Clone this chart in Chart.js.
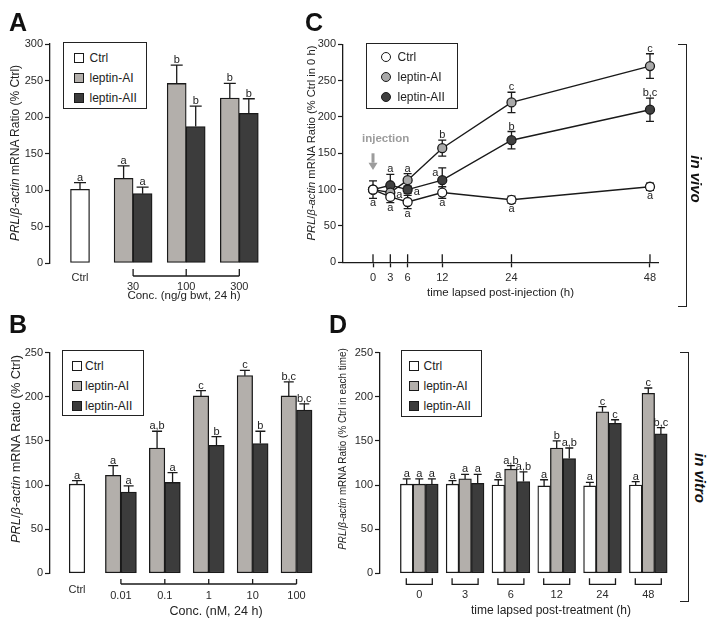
<!DOCTYPE html>
<html>
<head>
<meta charset="utf-8">
<script src="https://cdn.jsdelivr.net/npm/chart.js@4.4.1/dist/chart.umd.min.js"></script>
<style>
  body { margin: 0; background: #fff; }
  #fig { position: relative; width: 714px; height: 626px; overflow: hidden; font-family: "Liberation Sans", Arial, sans-serif; color: #222; }
  #fig canvas { position: absolute; }
  .pl { position: absolute; font-weight: bold; font-size: 25px; line-height: 25px; color: #111; }
  .yt { position: absolute; white-space: nowrap; font-size: 11px; transform: translate(-50%, -50%) rotate(-90deg); }
  .xt { position: absolute; white-space: nowrap; font-size: 11.5px; transform: translate(-50%, -50%); }
  .side { position: absolute; white-space: nowrap; font-weight: bold; font-style: italic; font-size: 15px; color: #111; transform: translate(-50%, -50%) rotate(90deg); }
  .brk { position: absolute; border: 1.5px solid #222; border-left: none; width: 8px; }
  .lg { position: absolute; border: 1.5px solid #222; background: #fff; box-sizing: border-box; }
  .lg .t { position: absolute; font-size: 12px; line-height: 14px; white-space: nowrap; transform: translateY(-50%); }
  .lg .m { position: absolute; box-sizing: border-box; width: 10px; height: 10px; border: 1.3px solid #1a1a1a; transform: translateY(-50%); }
</style>
</head>
<body>
<div id="fig">
  <canvas id="cA" width="330" height="310" style="left:0;top:0"></canvas>
  <canvas id="cB" width="330" height="316" style="left:0;top:310px"></canvas>
  <canvas id="cC" width="370" height="310" style="left:300px;top:0"></canvas>
  <canvas id="cD" width="345" height="316" style="left:330px;top:310px"></canvas>

  <div class="pl" style="left:9px;top:10px">A</div>
  <div class="pl" style="left:9px;top:312px">B</div>
  <div class="pl" style="left:305px;top:10px">C</div>
  <div class="pl" style="left:329px;top:312px">D</div>

  <div class="yt" style="left:15px;top:153px;font-size:12px"><i>PRL</i>/<i>&beta;-actin</i> mRNA Ratio (% Ctrl)</div>
  <div class="yt" style="left:15px;top:449px;font-size:12.8px"><i>PRL</i>/<i>&beta;-actin</i> mRNA Ratio (% Ctrl)</div>
  <div class="yt" style="left:311px;top:143px;font-size:11.2px"><i>PRL</i>/<i>&beta;-actin</i> mRNA Ratio (% Ctrl in 0 h)</div>
  <div class="yt" style="left:342px;top:449px;transform:translate(-50%,-50%) rotate(-90deg) scaleX(0.9)"><i>PRL</i>/<i>&beta;-actin</i> mRNA Ratio (% Ctrl in each time)</div>

  <div class="xt" style="left:184px;top:295px">Conc. (ng/g bwt, 24 h)</div>
  <div class="xt" style="left:216px;top:611px;font-size:12.5px">Conc. (nM, 24 h)</div>
  <div class="xt" style="left:551px;top:610px;font-size:12px">time lapsed post-treatment (h)</div>

  <div class="brk" style="left:678px;top:44px;height:261px"></div>
  <div class="side" style="left:696px;top:179px">in vivo</div>
  <div class="brk" style="left:680px;top:352px;height:248px"></div>
  <div class="side" style="left:700px;top:478px">in vitro</div>
</div>

<script>
// ---------- data ----------
const seriesNames = ['Ctrl', 'leptin-AI', 'leptin-AII'];

// A: in vivo, dose (ng/g bwt, 24 h)
const aCats = ['Ctrl', '30', '100', '300'];
const aCtrl = [101, null, null, null];
const aAI = [null, 116, 246, 226];
const aAII = [null, 95, 187, 205];
const aCtrlErr = [9, null, null, null];
const aAIErr = [null, 17, 25, 20];
const aAIIErr = [null, 9, 28, 20];
const aCtrlLet = ['a', null, null, null];
const aAILet = [null, 'a', 'b', 'b'];
const aAIILet = [null, 'a', 'b', 'b'];
const aYTicks = [0, 50, 100, 150, 200, 250, 300];

// B: in vitro, dose (nM, 24 h)
const bCats = ['Ctrl', '0.01', '0.1', '1', '10', '100'];
const bCtrl = [101, null, null, null, null, null];
const bAI = [null, 111, 142, 201, 224, 201];
const bAII = [null, 92, 103, 145, 147, 185];
const bCtrlErr = [4, null, null, null, null, null];
const bAIErr = [null, 11, 19, 6, 6, 16];
const bAIIErr = [null, 7, 11, 10, 14, 7];
const bCtrlLet = ['a', null, null, null, null, null];
const bAILet = [null, 'a', 'a,b', 'c', 'c', 'b,c'];
const bAIILet = [null, 'a', 'a', 'b', 'b', 'b,c'];
const bYTicks = [0, 50, 100, 150, 200, 250];

// C: in vivo time course (h after injection)
const cTime = [0, 3, 6, 12, 24, 48];
const cCtrl = [100, 90, 83, 96, 86, 104];
const cAI = [100, 96, 113, 157, 220, 270];
const cAII = [100, 106, 100, 113, 168, 210];
const cCtrlErr = [12, 8, 9, 8, 5, 5];
const cAIErr = [null, 6, 9, 11, 14, 17];
const cAIIErr = [null, 15, 5, 17, 12, 16];
const cCtrlLet = ['a', 'a', 'a', 'a', 'a', 'a'];
const cAILet = [null, 'a', 'a', 'b', 'c', 'c'];
const cAIILet = [null, 'a', 'a', 'a', 'b', 'b,c'];
const cCtrlLetPos = ['down', 'down', 'down', 'down', 'down', 'down'];
const cAILetPos = [null, 'right', 'up', 'up', 'up', 'up'];
const cAIILetPos = [null, 'up', 'right', 'left', 'up', 'up'];
const cYTicks = [0, 50, 100, 150, 200, 250, 300];

// D: in vitro time course (h of treatment)
const dCats = ['0', '3', '6', '12', '24', '48'];
const dCtrl = [101, 101, 100, 99, 99, 100];
const dAI = [101, 107, 118, 142, 183, 204];
const dAII = [101, 102, 104, 130, 170, 158];
const dCtrlErr = [6, 4, 6, 7, 4, 4];
const dAIErr = [6, 5, 4, 8, 6, 6];
const dAIIErr = [6, 10, 11, 12, 4, 7];
const dCtrlLet = ['a', 'a', 'a', 'a', 'a', 'a'];
const dAILet = ['a', 'a', 'a,b', 'b', 'c', 'c'];
const dAIILet = ['a', 'a', 'a,b', 'a,b', 'c', 'b,c'];
const dYTicks = [0, 50, 100, 150, 200, 250];

// ---------- style ----------
const INK = '#1a1a1a';
const barFills = ['#ffffff', '#b3afab', '#3c3c3c'];
const dotFills = ['#ffffff', '#a9a9a9', '#404040'];
const FONT = '"Liberation Sans", Arial, sans-serif';

Chart.defaults.font.family = FONT;
Chart.defaults.font.size = 11;
Chart.defaults.color = '#222';
Chart.defaults.animation = false;

// error bars + significance letters
const errPlugin = {
  id: 'errbars',
  beforeDatasetsDraw(chart, args, o) { if (o.both) drawErr(chart, o); },
  afterDatasetsDraw(chart, args, o) {
    if (!o.both) drawErr(chart, o);
    drawLetters(chart, o);
  }
};

function drawErr(chart, o) {
  const ctx = chart.ctx, ys = chart.scales.y;
  ctx.save();
  ctx.strokeStyle = INK;
  ctx.lineWidth = 1.3;
  chart.data.datasets.forEach((ds, di) => {
    const meta = chart.getDatasetMeta(di);
    meta.data.forEach((el, i) => {
      const v = ds.data[i].y, e = ds.errs[i];
      if (v == null || e == null) return;
      const yTop = ys.getPixelForValue(v + e);
      const yBot = o.both ? ys.getPixelForValue(v - e) : el.y;
      ctx.beginPath();
      ctx.moveTo(el.x, yBot);
      ctx.lineTo(el.x, yTop);
      ctx.moveTo(el.x - o.cap / 2, yTop);
      ctx.lineTo(el.x + o.cap / 2, yTop);
      if (o.both) {
        ctx.moveTo(el.x - o.cap / 2, yBot);
        ctx.lineTo(el.x + o.cap / 2, yBot);
      }
      ctx.stroke();
    });
  });
  ctx.restore();
}

function drawLetters(chart, o) {
  const ctx = chart.ctx, ys = chart.scales.y;
  ctx.save();
  ctx.font = '11px ' + FONT;
  ctx.fillStyle = '#222';
  chart.data.datasets.forEach((ds, di) => {
    const meta = chart.getDatasetMeta(di);
    meta.data.forEach((el, i) => {
      const v = ds.data[i].y, t = ds.lets[i];
      if (v == null || !t) return;
      const e = ds.errs[i] || 0;
      const pos = ds.letPos ? ds.letPos[i] : 'up';
      const r = o.r || 0;
      ctx.textAlign = 'center';
      if (pos === 'up') {
        ctx.fillText(t, el.x, Math.min(ys.getPixelForValue(v + e), el.y - r) - 2);
      } else if (pos === 'down') {
        ctx.fillText(t, el.x, Math.max(ys.getPixelForValue(v - e), el.y + r) + 8);
      } else if (pos === 'right') {
        ctx.textAlign = 'left';
        ctx.fillText(t, el.x + 6, el.y + 5);
      } else {
        ctx.textAlign = 'right';
        ctx.fillText(t, el.x - 4, el.y - 4);
      }
    });
  });
  ctx.restore();
}

function yAxis(max, ticks, w) {
  return {
    min: 0, max: max,
    afterBuildTicks: s => { s.ticks = ticks.map(v => ({ value: v })); },
    afterFit: s => { s.width = w; },
    grid: { drawOnChartArea: false, tickLength: 5, tickColor: INK, tickWidth: 1.2 },
    border: { color: INK, width: 1.3 },
    ticks: { padding: 2, color: '#2a2a2a', font: { size: 11 } }
  };
}

// bracket joining the dose groups (A, B)
function spanBracket(cats, dy, h) {
  return {
    id: 'spanBracket',
    afterDraw(chart) {
      const { ctx, chartArea } = chart, x = chart.scales.x;
      const yb = chartArea.bottom + dy;
      const xs = cats.slice(1).map((c, i) => x.getPixelForValue(i + 1));
      ctx.save();
      ctx.strokeStyle = INK;
      ctx.lineWidth = 1.3;
      ctx.beginPath();
      ctx.moveTo(xs[0], yb);
      ctx.lineTo(xs[xs.length - 1], yb);
      xs.forEach(px => { ctx.moveTo(px, yb); ctx.lineTo(px, yb - h); });
      ctx.stroke();
      ctx.restore();
    }
  };
}

// small bracket under every time group (D)
function groupBrackets(cats, dy, h, hw) {
  return {
    id: 'groupBrackets',
    afterDraw(chart) {
      const { ctx, chartArea } = chart, x = chart.scales.x;
      const yb = chartArea.bottom + dy;
      ctx.save();
      ctx.strokeStyle = INK;
      ctx.lineWidth = 1.3;
      cats.forEach((c, i) => {
        const px = x.getPixelForValue(i);
        ctx.beginPath();
        ctx.moveTo(px - hw, yb - h);
        ctx.lineTo(px - hw, yb);
        ctx.lineTo(px + hw, yb);
        ctx.lineTo(px + hw, yb - h);
        ctx.stroke();
      });
      ctx.restore();
    }
  };
}

function barPanel(id, cats, vals, errs, lets, yMax, yTicks, lay, extra) {
  const datasets = vals.map((arr, k) => ({
    label: seriesNames[k],
    data: arr.map((v, i) => ({ x: i, y: v })),
    errs: errs[k],
    lets: lets[k],
    backgroundColor: barFills[k],
    borderColor: INK,
    borderWidth: 1.3,
    borderSkipped: false,
    barThickness: lay.barW,
    skipNull: true
  }));
  return new Chart(document.getElementById(id), {
    type: 'bar',
    data: { datasets: datasets },
    options: {
      responsive: false,
      devicePixelRatio: 1,
      layout: { padding: lay.pad },
      plugins: { legend: { display: false }, tooltip: { enabled: false }, errbars: { cap: lay.cap, both: false } },
      scales: {
        x: {
          type: 'linear', min: lay.xMin, max: lay.xMax, offset: false,
          grid: { display: false, drawTicks: false },
          border: { display: false },
          afterBuildTicks: s => { s.ticks = cats.map((c, i) => ({ value: i })); },
          afterFit: s => { s.height = lay.xH; },
          ticks: {
            padding: lay.tickPad, autoSkip: false, maxRotation: 0, color: '#2a2a2a',
            font: { size: 11, lineHeight: lay.lh },
            callback: v => (lay.stagger && v > 0 ? ['', cats[v]] : cats[v])
          }
        },
        y: yAxis(yMax, yTicks, 50)
      }
    },
    plugins: [errPlugin, extra]
  });
}

// ---------- panel A ----------
barPanel('cA', aCats, [aCtrl, aAI, aAII], [aCtrlErr, aAIErr, aAIIErr], [aCtrlLet, aAILet, aAIILet],
  300, aYTicks,
  { pad: { left: 0, top: 44, right: 12, bottom: 0 }, xH: 47, xMin: -0.565, xMax: 4.482,
    barW: 19, cap: 12, tickPad: 10.5, lh: '9px', stagger: true },
  spanBracket(aCats, 13, 7));

// ---------- panel B ----------
barPanel('cB', bCats, [bCtrl, bAI, bAII], [bCtrlErr, bAIErr, bAIIErr], [bCtrlLet, bAILet, bAIILet],
  250, bYTicks,
  { pad: { left: 0, top: 42.7, right: 8, bottom: 0 }, xH: 52.7, xMin: -0.615, xMax: 5.58,
    barW: 15.5, cap: 10, tickPad: 13.7, lh: '6px', stagger: true },
  spanBracket(bCats, 10.7, 5));

// ---------- panel D ----------
barPanel('cD', dCats, [dCtrl, dAI, dAII], [dCtrlErr, dAIErr, dAIIErr], [dCtrlLet, dAILet, dAIILet],
  250, dYTicks,
  { pad: { left: 0, top: 42.7, right: 5, bottom: 0 }, xH: 52.7, xMin: -0.858, xMax: 5.474,
    barW: 12.6, cap: 8, tickPad: 15.7, lh: '12px', stagger: false },
  groupBrackets(dCats, 11, 6, 13));

// ---------- panel C ----------
const cExtra = {
  id: 'cExtra',
  afterDraw(chart) {
    const { ctx, chartArea } = chart, x = chart.scales.x, y = chart.scales.y;
    ctx.save();
    // upper half of the time ticks
    ctx.strokeStyle = INK;
    ctx.lineWidth = 1.3;
    ctx.beginPath();
    cTime.forEach(t => {
      const px = x.getPixelForValue(t);
      ctx.moveTo(px, chartArea.bottom);
      ctx.lineTo(px, chartArea.bottom - 8);
    });
    ctx.stroke();
    // injection arrow
    const ax = x.getPixelForValue(0);
    ctx.fillStyle = '#9c9c9c';
    ctx.font = 'bold 11.5px ' + FONT;
    ctx.textAlign = 'left';
    ctx.fillText('injection', ax - 11, y.getPixelForValue(165.5));
    const yTop = y.getPixelForValue(150), yNeck = y.getPixelForValue(137), yTip = y.getPixelForValue(127);
    ctx.fillRect(ax - 1.5, yTop, 3, yNeck - yTop);
    ctx.beginPath();
    ctx.moveTo(ax - 4.5, yNeck);
    ctx.lineTo(ax + 4.5, yNeck);
    ctx.lineTo(ax, yTip);
    ctx.closePath();
    ctx.fill();
    ctx.restore();
  }
};

const cVals = [cCtrl, cAI, cAII];
const cErrs = [cCtrlErr, cAIErr, cAIIErr];
const cLets = [cCtrlLet, cAILet, cAIILet];
const cLetPos = [cCtrlLetPos, cAILetPos, cAIILetPos];

new Chart(document.getElementById('cC'), {
  type: 'line',
  data: {
    datasets: cVals.map((arr, k) => ({
      label: seriesNames[k],
      data: arr.map((v, i) => ({ x: cTime[i], y: v })),
      errs: cErrs[k],
      lets: cLets[k],
      letPos: cLetPos[k],
      borderColor: INK,
      borderWidth: 1.4,
      tension: 0,
      pointRadius: 4.5,
      pointBackgroundColor: dotFills[k],
      pointBorderColor: INK,
      pointBorderWidth: 1.3
    }))
  },
  options: {
    responsive: false,
    devicePixelRatio: 1,
    layout: { padding: { left: 0, top: 44.3, right: 12, bottom: 0 } },
    plugins: { legend: { display: false }, tooltip: { enabled: false }, errbars: { cap: 8, both: true, r: 4.5 } },
    scales: {
      x: {
        type: 'linear', min: -5.2, max: 49.39,
        afterBuildTicks: s => { s.ticks = cTime.map(t => ({ value: t })); },
        afterFit: s => { s.height = 47.7; },
        grid: { drawOnChartArea: false, tickLength: 5, tickColor: INK, tickWidth: 1.3 },
        border: { color: INK, width: 1.3 },
        ticks: { padding: 3.7, autoSkip: false, maxRotation: 0, color: '#2a2a2a', font: { size: 11 } },
        title: { display: true, text: 'time lapsed post-injection (h)', color: '#222',
                 font: { size: 11.5, lineHeight: '12px' }, padding: { top: 0, bottom: 11 } }
      },
      y: yAxis(300, cYTicks, 43)
    }
  },
  plugins: [errPlugin, cExtra]
});

// ---------- legends ----------
function legend(box, rowTop, markX, textX, round, fills) {
  const el = document.createElement('div');
  el.className = 'lg';
  el.style.left = box[0] + 'px';
  el.style.top = box[1] + 'px';
  el.style.width = box[2] + 'px';
  el.style.height = box[3] + 'px';
  seriesNames.forEach((n, i) => {
    const cy = rowTop + i * 20;
    const m = document.createElement('span');
    m.className = 'm';
    m.style.left = markX + 'px';
    m.style.top = cy + 'px';
    m.style.background = fills[i];
    if (round) m.style.borderRadius = '50%';
    const t = document.createElement('span');
    t.className = 't';
    t.style.left = textX + 'px';
    t.style.top = cy + 'px';
    t.textContent = n;
    el.appendChild(m);
    el.appendChild(t);
  });
  document.getElementById('fig').appendChild(el);
}
legend([63, 42, 84, 67], 14.5, 9.5, 25.5, false, barFills);
legend([62, 350, 82, 66], 14.5, 8.5, 22, false, barFills);
legend([366, 43, 92, 66], 13, 13.5, 30.5, true, dotFills);
legend([401, 350, 81, 67], 14.5, 7, 21.5, false, barFills);
</script>
</body>
</html>
